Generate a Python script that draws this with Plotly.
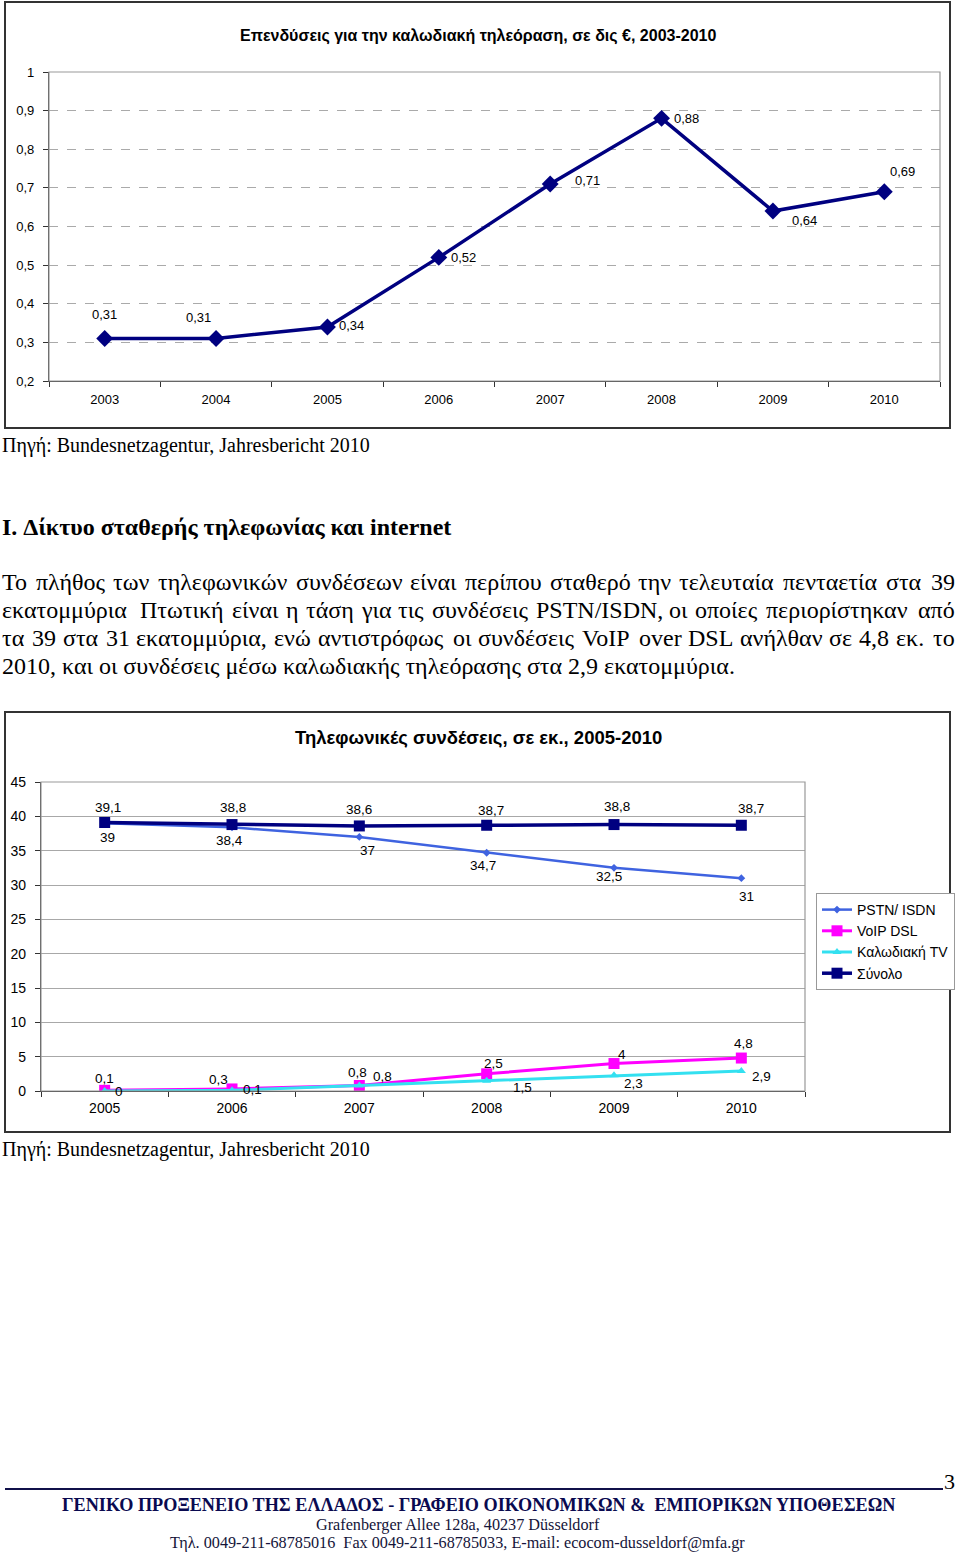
import plotly.graph_objects as go

# ---------------- data ----------------
inv_years = ["2003", "2004", "2005", "2006", "2007", "2008", "2009", "2010"]
inv_values = [0.31, 0.31, 0.34, 0.52, 0.71, 0.88, 0.64, 0.69]
inv_yticks = [0.2, 0.3, 0.4, 0.5, 0.6, 0.7, 0.8, 0.9, 1.0]
inv_yticktext = ["0,2", "0,3", "0,4", "0,5", "0,6", "0,7", "0,8", "0,9", "1"]

tel_years = ["2005", "2006", "2007", "2008", "2009", "2010"]
pstn = [39, 38.4, 37, 34.7, 32.5, 31]
voip = [0.1, 0.3, 0.8, 2.5, 4, 4.8]
cable = [0, 0.1, 0.8, 1.5, 2.3, 2.9]
total = [39.1, 38.8, 38.6, 38.7, 38.8, 38.7]
tel_yticks = [0, 5, 10, 15, 20, 25, 30, 35, 40, 45]

# --------------- layout helpers ---------------
W, H = 960, 1553
def px(x):
    return x / W
def py(y):
    return 1 - y / H

def fmt(v):
    return ("%g" % v).replace(".", ",")

SANS = "Liberation Sans, Arial, sans-serif"
SERIF = "Liberation Serif, Times New Roman, serif"
NAVY = "#000080"

fig = go.Figure()

# chart 1
fig.add_trace(go.Scatter(
    x=inv_years, y=inv_values, mode="lines+markers",
    line=dict(color=NAVY, width=3.5),
    marker=dict(symbol="diamond", size=13, color=NAVY),
    showlegend=False, xaxis="x", yaxis="y", hoverinfo="skip"))

# chart 2
fig.add_trace(go.Scatter(
    x=tel_years, y=pstn, name="PSTN/ ISDN", mode="lines+markers",
    line=dict(color="#3F63E0", width=2.5),
    marker=dict(symbol="diamond", size=6, color="#3F63E0"),
    xaxis="x2", yaxis="y2"))
fig.add_trace(go.Scatter(
    x=tel_years, y=voip, name="VoIP DSL", mode="lines+markers",
    line=dict(color="#FF00FF", width=3),
    marker=dict(symbol="square", size=11, color="#FF00FF"),
    xaxis="x2", yaxis="y2"))
fig.add_trace(go.Scatter(
    x=tel_years, y=cable, name="Καλωδιακή TV", mode="lines+markers",
    line=dict(color="#33E0F0", width=3),
    marker=dict(symbol="triangle-up", size=8, color="#33E0F0"),
    xaxis="x2", yaxis="y2"))
fig.add_trace(go.Scatter(
    x=tel_years, y=total, name="Σύνολο", mode="lines+markers",
    line=dict(color=NAVY, width=3.5),
    marker=dict(symbol="square", size=11, color=NAVY),
    xaxis="x2", yaxis="y2"))

annotations = []

# data labels chart 1 (offsets are styling)
inv_off = [(0, 24, "center"), (-18, 21, "center"), (10, 1, "left"), (10, 0, "left"),
           (23, 4, "left"), (10, 0, "left"), (17, -9, "left"), (4, 20, "left")]
for i, (yv, (dx, dy, anc)) in enumerate(zip(inv_values, inv_off)):
    annotations.append(dict(x=i, y=yv, xref="x", yref="y", text=fmt(yv), showarrow=False,
                            xshift=dx, yshift=dy, xanchor=anc,
                            font=dict(family=SANS, size=13, color="black")))

def add_labels(vals, offs):
    for i, (yv, (dx, dy, anc)) in enumerate(zip(vals, offs)):
        annotations.append(dict(x=i, y=yv, xref="x2", yref="y2", text=fmt(yv), showarrow=False,
                                xshift=dx, yshift=dy, xanchor=anc,
                                font=dict(family=SANS, size=13.5, color="black")))

add_labels(total, [(3, 15, "center"), (1, 17, "center"), (0, 16, "center"),
                   (4, 15, "center"), (3, 18, "center"), (10, 17, "center")])
add_labels(pstn, [(3, -14, "center"), (-3, -13, "center"), (8, -14, "center"),
                  (-4, -13, "center"), (-5, -9, "center"), (5, -18, "center")])
add_labels(voip, [(0, 12, "center"), (-14, 9, "center"), (-2, 13, "center"),
                  (7, 10, "center"), (8, 9, "center"), (2, 15, "center")])
add_labels(cable, [(8, 0, "left"), (9, 1, "left"), (12, 9, "left"),
                   (24, -7, "left"), (8, -8, "left"), (9, -5, "left")])

# titles
annotations.append(dict(x=px(478), y=py(25), xref="paper", yref="paper", showarrow=False,
                        text="<b>Επενδύσεις για την καλωδιακή τηλεόραση, σε δις €, 2003-2010</b>",
                        font=dict(family=SANS, size=16, color="black")))
annotations.append(dict(x=px(478), y=py(737), xref="paper", yref="paper", showarrow=False,
                        text="<b>Τηλεφωνικές συνδέσεις, σε εκ., 2005-2010</b>",
                        font=dict(family=SANS, size=18.5, color="black")))

# page text
def text_line(x, y, s, size, anchor="left", bold=False, color="black"):
    annotations.append(dict(x=px(x), y=py(y), xref="paper", yref="paper", showarrow=False,
                            text=("<b>%s</b>" % s) if bold else s, xanchor=anchor, yanchor="middle",
                            font=dict(family=SERIF, size=size, color=color)))

# approximate Times-like advance widths (em units) used only to justify text lines
CW = {" ": .25, ",": .25, ".": .25, ":": .278, "/": .278,
      "a": .444, "b": .5, "c": .444, "d": .5, "e": .444, "f": .333, "g": .5, "h": .5, "i": .278,
      "k": .5, "l": .278, "m": .778, "n": .5, "o": .5, "p": .5, "r": .333, "s": .389, "t": .278,
      "u": .5, "v": .5, "w": .722, "x": .5, "y": .5, "z": .444,
      "D": .722, "I": .333, "L": .611, "N": .722, "O": .722, "P": .556, "S": .556, "T": .611, "V": .722,
      "α": .53, "ά": .53, "β": .5, "γ": .44, "δ": .5, "ε": .43, "έ": .43, "ζ": .44, "η": .5, "ή": .5,
      "θ": .5, "ι": .28, "ί": .28, "κ": .5, "λ": .5, "μ": .54, "ν": .46, "ξ": .44, "ο": .5, "ό": .5,
      "π": .55, "ρ": .5, "σ": .54, "ς": .42, "τ": .44, "υ": .5, "ύ": .5, "φ": .62, "χ": .47,
      "ψ": .66, "ω": .68, "ώ": .68, "Π": .72, "Τ": .61}

def sw(s):
    return sum(CW.get(c, .5 if c.isdigit() else (.7 if c.isupper() else .48)) for c in s)

def justified(y, s, size, left, right, natural, squeeze=6):
    words = s.split(" ")
    widths = [sw(w) for w in words]
    space = CW[" "]
    est_total = sum(widths) + space * (len(words) - 1)
    k = natural / est_total
    real = [w for w in words if w]
    ngaps = len(real) - 1
    extra = (right - left) - natural - squeeze
    cum = 0.0
    gi = 0
    for j, w in enumerate(words):
        if w:
            if gi == 0:
                text_line(left, y, w, size)
            elif gi == ngaps:
                text_line(right, y, w, size, anchor="right")
            else:
                text_line(left + cum * k + gi * extra / ngaps, y, w, size)
            gi += 1
        cum += widths[j] + space

text_line(0, 445, "Πηγή: Bundesnetzagentur, Jahresbericht 2010", 20)
text_line(0, 1149, "Πηγή: Bundesnetzagentur, Jahresbericht 2010", 20)
text_line(0, 527, "I. Δίκτυο σταθερής τηλεφωνίας και internet", 24, bold=True)
para = [
    "Το πλήθος των τηλεφωνικών συνδέσεων είναι περίπου σταθερό την τελευταία πενταετία στα 39",
    "εκατομμύρια  Πτωτική είναι η τάση για τις συνδέσεις PSTN/ISDN, οι οποίες περιορίστηκαν από",
    "τα 39 στα 31 εκατομμύρια, ενώ αντιστρόφως οι συνδέσεις VoIP over DSL ανήλθαν σε 4,8 εκ. το",
    "2010, και οι συνδέσεις μέσω καλωδιακής τηλεόρασης στα 2,9 εκατομμύρια.",
]
naturals = [926, 933, 930]
for i, s in enumerate(para[:3]):
    justified(582 + 28 * i, s, 24, 0, 957, naturals[i])
text_line(0, 582 + 28 * 3, para[3], 24)

FOOT = "#0A0A50"
text_line(957, 1481, "3", 22, anchor="right")
text_line(478, 1505, "ΓΕΝΙΚΟ ΠΡΟΞΕΝΕΙΟ ΤΗΣ ΕΛΛΑΔΟΣ - ΓΡΑΦΕΙΟ ΟΙΚΟΝΟΜΙΚΩΝ &amp;  ΕΜΠΟΡΙΚΩΝ ΥΠΟΘΕΣΕΩΝ",
          18.2, anchor="center", bold=True, color=FOOT)
text_line(458, 1525, "Grafenberger Allee 128a, 40237 Düsseldorf", 16.2, anchor="center", color="#15153A")
text_line(457, 1543, "Τηλ. 0049-211-68785016  Fax 0049-211-68785033, E-mail: ecocom-dusseldorf@mfa.gr",
          16.2, anchor="center", color="#15153A")

shapes = [
    # outer chart boxes
    dict(type="rect", xref="paper", yref="paper", x0=px(5), x1=px(950), y0=py(428), y1=py(2),
         line=dict(color="#333333", width=2)),
    dict(type="rect", xref="paper", yref="paper", x0=px(5), x1=px(950), y0=py(1132), y1=py(712),
         line=dict(color="#333333", width=2)),
    # plot area borders
    dict(type="rect", xref="paper", yref="paper", x0=px(49), x1=px(940), y0=py(381), y1=py(72),
         line=dict(color="#999999", width=1.2)),
    dict(type="rect", xref="paper", yref="paper", x0=px(41), x1=px(805), y0=py(1091), y1=py(782),
         line=dict(color="#999999", width=1.2)),
    # footer rule
    dict(type="line", xref="paper", yref="paper", x0=px(5), x1=px(943), y0=py(1489), y1=py(1489),
         line=dict(color="#10104A", width=2)),
]

axis_font = dict(family=SANS, size=13, color="black")
axis_font2 = dict(family=SANS, size=14, color="black")

fig.update_layout(
    width=W, height=H, margin=dict(l=0, r=0, t=0, b=0, pad=0, autoexpand=False),
    paper_bgcolor="white", plot_bgcolor="white",
    separators=",.",
    showlegend=True,
    legend=dict(x=px(816), y=py(893), xanchor="left", yanchor="top",
                bordercolor="#999999", borderwidth=1, bgcolor="white",
                font=dict(family=SANS, size=14, color="black"),
                itemwidth=30, tracegroupgap=0),
    xaxis=dict(domain=[px(49), px(940)], type="category", range=[-0.5, 7.5],
               showgrid=False, showline=True, linecolor="#333333", linewidth=1.2,
               ticks="outside", tickson="boundaries", ticklen=5, tickcolor="#333333",
               tickfont=axis_font, ticklabelstandoff=6, anchor="y", fixedrange=True),
    yaxis=dict(domain=[py(381), py(72)], range=[0.2, 1.0], tickvals=inv_yticks,
               ticktext=inv_yticktext, showgrid=True, gridcolor="#AAAAAA", griddash="dash",
               gridwidth=1, showline=True, linecolor="#333333", linewidth=1.2,
               ticks="outside", ticklen=5, tickcolor="#333333", tickfont=axis_font,
               ticklabelstandoff=6, anchor="x", zeroline=False, fixedrange=True),
    xaxis2=dict(domain=[px(41), px(805)], type="category", range=[-0.5, 5.5],
                showgrid=False, showline=True, linecolor="#333333", linewidth=1.2,
                ticks="outside", tickson="boundaries", ticklen=5, tickcolor="#333333",
                tickfont=axis_font2, ticklabelstandoff=4, anchor="y2", fixedrange=True),
    yaxis2=dict(domain=[py(1091), py(782)], range=[0, 45], tickvals=tel_yticks,
                showgrid=True, gridcolor="#A8A8A8", gridwidth=1.2,
                showline=True, linecolor="#333333", linewidth=1.2,
                ticks="outside", ticklen=5, tickcolor="#333333", tickfont=axis_font2,
                ticklabelstandoff=6, anchor="x2", zeroline=False, fixedrange=True),
    annotations=annotations,
    shapes=shapes,
)

fig.write_html("out.html", config={"displayModeBar": False},
               post_script="document.body.style.margin='0px';document.body.style.overflow='hidden';")
